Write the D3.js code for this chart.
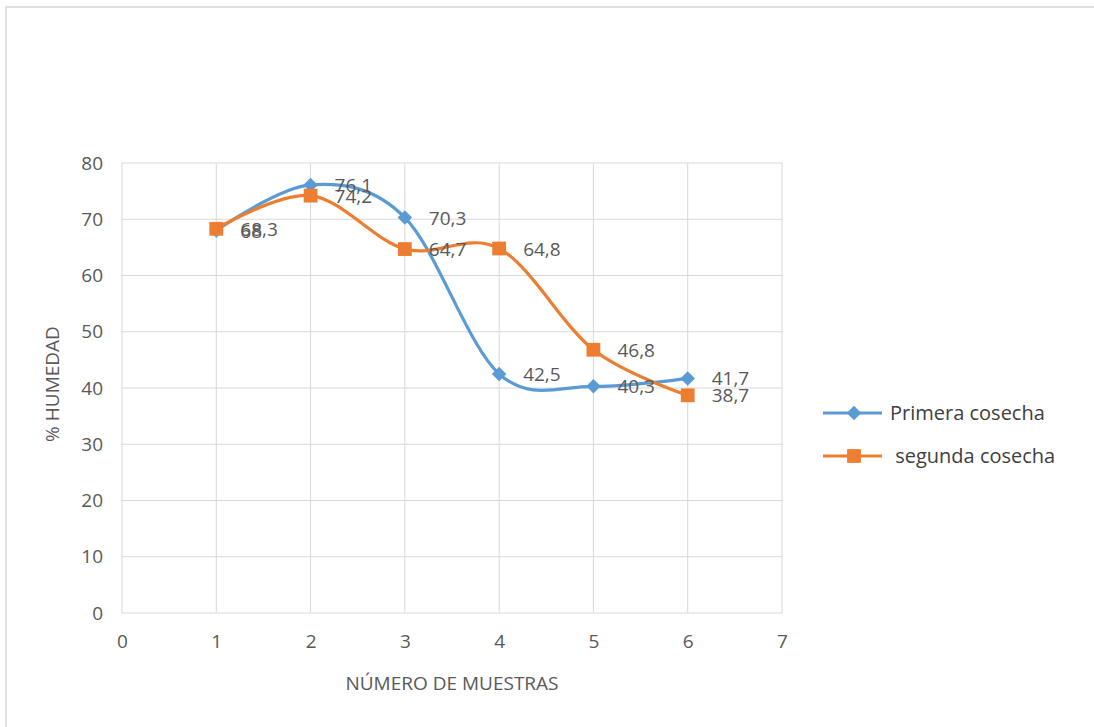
<!DOCTYPE html>
<html><head><meta charset="utf-8">
<script src="https://cdn.jsdelivr.net/npm/d3@7"></script>
<style>body{margin:0;background:#fff;}svg{display:block;font-family:"Open Sans",sans-serif;}</style>
</head><body>
<svg id="c" width="1094" height="727"></svg>
<script>
const samples = [1, 2, 3, 4, 5, 6];
const primera = [68, 76.1, 70.3, 42.5, 40.3, 41.7];
const segunda = [68.3, 74.2, 64.7, 64.8, 46.8, 38.7];
const xTicks = [0, 1, 2, 3, 4, 5, 6, 7];
const yTicks = [0, 10, 20, 30, 40, 50, 60, 70, 80];
const seriesNames = ["Primera cosecha", " segunda cosecha"];
const colors = ["#5B9BD5", "#ED7D31"];

const svg = d3.select("#c");
const L = 122, R = 782, T = 163, B = 613;
const x = d3.scaleLinear().domain([0, 7]).range([L, R]);
const y = d3.scaleLinear().domain([0, 80]).range([B, T]);

// outer frame
svg.append("path").attr("d", "M6,727 V7 H1094").attr("fill", "none").attr("stroke", "#d6d6d6").attr("stroke-width", 1.5);

// gridlines
svg.append("g").selectAll("line").data(yTicks).join("line")
  .attr("x1", L).attr("x2", R).attr("y1", d => y(d)).attr("y2", d => y(d))
  .attr("stroke", "#d9d9d9").attr("stroke-width", 1);
svg.append("g").selectAll("line").data(xTicks).join("line")
  .attr("y1", T).attr("y2", B).attr("x1", d => x(d)).attr("x2", d => x(d))
  .attr("stroke", "#d9d9d9").attr("stroke-width", 1);

// axes using d3 axis generators
const yAxis = d3.axisLeft(y).tickValues(yTicks).tickFormat(d3.format("d")).tickSize(0).tickPadding(19);
const gy = svg.append("g").attr("transform", `translate(${L},0)`).call(yAxis);
const xAxis = d3.axisBottom(x).tickValues(xTicks).tickFormat(d3.format("d")).tickSize(0).tickPadding(22);
const gx = svg.append("g").attr("transform", `translate(0,${B})`).call(xAxis);
[gy, gx].forEach(g => {
  g.select(".domain").remove();
  g.selectAll("text").attr("font-size", 19).attr("fill", "#595959").attr("font-family", "Open Sans, sans-serif");
});

// axis titles
svg.append("text").attr("x", x(3.5)).attr("y", 690).attr("text-anchor", "middle")
  .attr("font-size", 19).attr("fill", "#595959").text("NÚMERO DE MUESTRAS");
svg.append("text").attr("transform", "translate(59,384) rotate(-90)").attr("text-anchor", "middle")
  .attr("font-size", 19).attr("fill", "#595959").text("% HUMEDAD");

const line = d3.line().x(d => x(d[0])).y(d => y(d[1])).curve(d3.curveCatmullRom.alpha(0));
const fmt = v => String(v).replace(".", ",");
const symSize = [105, 190];
const rot = [45, 0];
const symPath = i => d3.symbol(d3.symbolSquare, symSize[i])();

const data = [primera, segunda];
data.forEach((vals, i) => {
  const pts = samples.map((s, j) => [s, vals[j]]);
  svg.append("path").datum(pts).attr("d", line).attr("fill", "none")
    .attr("stroke", colors[i]).attr("stroke-width", 3.2).attr("stroke-linejoin", "round");
});
data.forEach((vals, i) => {
  const pts = samples.map((s, j) => [s, vals[j]]);
  svg.append("g").selectAll("path").data(pts).join("path")
    .attr("d", symPath(i))
    .attr("transform", d => `translate(${x(d[0])},${y(d[1])}) rotate(${rot[i]})`)
    .attr("fill", colors[i]);
});
data.forEach((vals, i) => {
  const pts = samples.map((s, j) => [s, vals[j]]);
  svg.append("g").selectAll("text").data(pts).join("text")
    .attr("x", d => x(d[0]) + 24).attr("y", d => y(d[1]) + 7)
    .attr("font-size", 19).attr("fill", "#595959").text(d => fmt(d[1]));
});

// legend
const legY = [413, 456];
seriesNames.forEach((name, i) => {
  const g = svg.append("g");
  g.append("line").attr("x1", 823).attr("x2", 882).attr("y1", legY[i]).attr("y2", legY[i])
    .attr("stroke", colors[i]).attr("stroke-width", 3.2);
  g.append("path").attr("d", symPath(i))
    .attr("transform", `translate(854,${legY[i]}) rotate(${rot[i]})`).attr("fill", colors[i]);
  g.append("text").attr("x", 890).attr("y", legY[i] + 7).attr("font-size", 20)
    .attr("fill", "#404040").attr("xml:space", "preserve").style("white-space", "pre").text(name);
});
</script>
</body></html>
